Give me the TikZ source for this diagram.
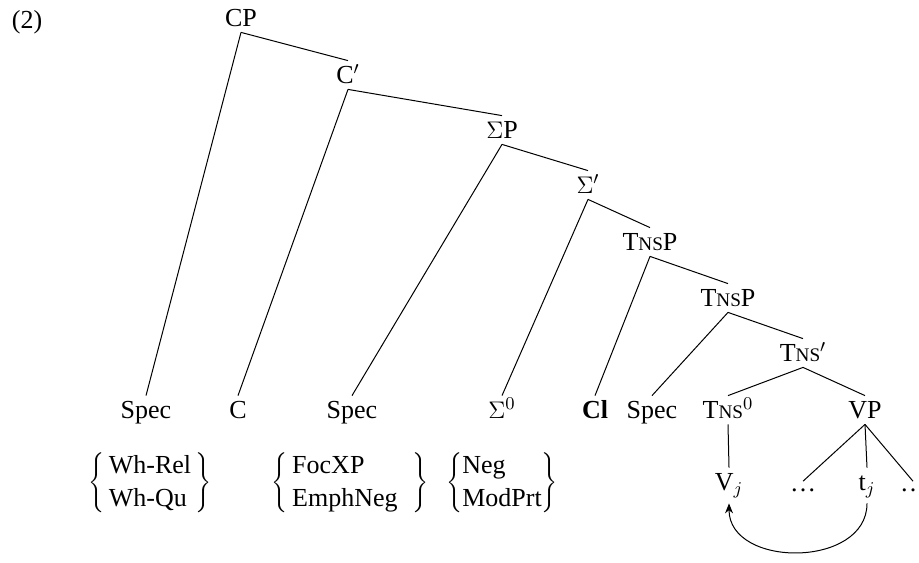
\documentclass[tikz,border=0pt]{standalone}
\usepackage{fontspec}
\setmainfont{Liberation Serif}
\usetikzlibrary{arrows.meta}
\newcommand{\TnsSC}{T{\fontsize{9.6}{10}\selectfont NS}}
\begin{document}
\begin{tikzpicture}[x=0.5pt,y=-0.5pt,
  every node/.style={font=\fontsize{13}{16.5}\selectfont},
  lab/.style={text height=8.6pt,text depth=0pt,inner sep=2.7pt},
  dotlab/.style={text height=2pt,text depth=0pt,inner sep=2.7pt,anchor=base},
  grp/.style={inner sep=0pt},
  edge/.style={line width=0.5pt},
  mv/.style={line width=0.5pt,-{Stealth[length=5pt,width=4pt]}}]
\useasboundingbox (0,0) rectangle (919,562);
% labels
\node[lab] (ex) at (27,20) {(2)};
\node[lab] (cp) at (241,18) {CP};
\node[lab] (cbar) at (348,75) {C$'$};
\node[lab] (sigp) at (502,130) {$\Sigma$P};
\node[lab] (sigbar) at (588,185) {$\Sigma'$};
\node[lab] (tnsp1) at (650,242) {\TnsSC P};
\node[lab] (tnsp2) at (728,298) {\TnsSC P};
\node[lab] (tnsbar) at (803,353) {\TnsSC$'$};
% bottom row
\node[lab] (spec1) at (146,410) {Spec};
\node[lab] (c) at (238,410) {C};
\node[lab] (spec2) at (352,410) {Spec};
\node[lab] (sig0) at (502,410) {$\Sigma^0$};
\node[lab] (cl) at (595,410) {\textbf{Cl}};
\node[lab] (spec3) at (652,410) {Spec};
\node[lab] (tns0) at (728,410) {\TnsSC$^0$};
\node[lab] (vp) at (865,410) {VP};
% lowest row
\node[lab] (vj) at (729,482) {V$_j$};
\node[dotlab] (dots1) at (803,491) {\ldots};
\node[lab] (tj) at (867,482) {t$_j$};
\node[dotlab] (dots2) at (913,491) {\ldots};
% brace groups
\node[grp] (g1) at (150,483) {$\left\{\begin{tabular}{@{\,}l@{\,}}Wh-Rel\\Wh-Qu\end{tabular}\right\}$};
\node[grp] (g2) at (350,483) {$\left\{\begin{tabular}{@{\,}l@{\;\;}}FocXP\\EmphNeg\end{tabular}\right\}$};
\node[grp] (g3) at (502,483) {$\left\{\begin{tabular}{@{}l@{}}Neg\\ModPrt\end{tabular}\right\}$};
% edges
\draw[edge] (cp.south) -- (spec1.north);
\draw[edge] (cp.south) -- (cbar.north);
\draw[edge] (cbar.south) -- (c.north);
\draw[edge] (cbar.south) -- (sigp.north);
\draw[edge] (sigp.south) -- (spec2.north);
\draw[edge] (sigp.south) -- (sigbar.north);
\draw[edge] (sigbar.south) -- (sig0.north);
\draw[edge] (sigbar.south) -- (tnsp1.north);
\draw[edge] (tnsp1.south) -- (cl.north);
\draw[edge] (tnsp1.south) -- (tnsp2.north);
\draw[edge] (tnsp2.south) -- (spec3.north);
\draw[edge] (tnsp2.south) -- (tnsbar.north);
\draw[edge] (tnsbar.south) -- (tns0.north);
\draw[edge] (tnsbar.south) -- (vp.north);
\draw[edge] (tns0.south) -- (vj.north);
\draw[edge] (vp.south) -- (dots1.north);
\draw[edge] (vp.south) -- (tj.north);
\draw[edge] (vp.south) -- (dots2.north);
% movement arrow
\draw[mv] ([yshift=-3.5pt]tj.south) .. controls +(0,65) and +(0,65) .. ([yshift=-3.5pt]vj.south);
\end{tikzpicture}
\end{document}
